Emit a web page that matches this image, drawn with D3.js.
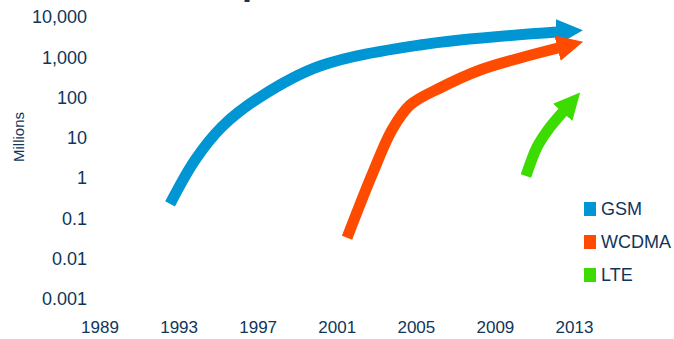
<!DOCTYPE html>
<html>
<head>
<meta charset="utf-8">
<script src="https://cdn.jsdelivr.net/npm/d3@7"></script>
<style>
  html, body { margin: 0; padding: 0; background: #fff; }
  svg { display: block; font-family: "Liberation Sans", Arial, sans-serif; }
</style>
</head>
<body>
<svg id="chart" width="674" height="339"></svg>
<script>
// Subscriptions (millions) per technology, log scale
const years = [1989, 1993, 1997, 2001, 2005, 2009, 2013];
const yTicks = [10000, 1000, 100, 10, 1, 0.1, 0.01, 0.001];
const yTickLabels = ["10,000", "1,000", "100", "10", "1", "0.1", "0.01", "0.001"];

const gsmYears  = [1992.57, 1993.83, 1995.2, 1997.12, 2000.15, 2005.21, 2012.14];
const gsmValues = [0.23, 2.8, 19, 103, 608, 2020, 4250];

const wcdmaYears  = [2001.52, 2002.78, 2003.79, 2004.7, 2006.22, 2008.25, 2010.27, 2012.19];
const wcdmaValues = [0.033, 1.2, 15.7, 65, 173, 484, 962, 1700];

const lteYears  = [2010.57, 2011.13, 2011.68, 2012.44];
const lteValues = [1.13, 5.9, 15.7, 44];

const series = [
  { name: "GSM",   color: "#0095d3", years: gsmYears,   values: gsmValues },
  { name: "WCDMA", color: "#ff4b00", years: wcdmaYears, values: wcdmaValues },
  { name: "LTE",   color: "#3cdc00", years: lteYears,   values: lteValues }
];

const textColor = "#0f3659";
const svg = d3.select("#chart");

const x = d3.scaleLinear().domain([1989, 2013]).range([99.5, 574]);
const y = d3.scaleLog().domain([0.001, 10000]).range([299, 17]);

// Title (runs above the visible area)
const title = svg.append("text")
  .attr("y", -6.5)
  .attr("font-size", 36)
  .attr("font-weight", "bold")
  .attr("fill", textColor)
  .text("Subscriptions");
const pIndex = "Subscriptions".indexOf("p");
const pStart = title.node().getStartPositionOfChar(pIndex).x;
title.attr("x", 242 - pStart);

// Y axis labels
const yAxis = d3.axisLeft(y)
  .tickValues(yTicks)
  .tickSize(0)
  .tickPadding(0)
  .tickFormat((d, i) => yTickLabels[i]);
svg.append("g")
  .attr("transform", "translate(87,0)")
  .call(yAxis)
  .call(g => g.select(".domain").remove())
  .call(g => g.selectAll("text")
    .attr("font-size", 18)
    .attr("font-family", "Liberation Sans, Arial, sans-serif")
    .attr("fill", textColor));

// X axis labels
const xAxis = d3.axisBottom(x)
  .tickValues(years)
  .tickSize(0)
  .tickPadding(0)
  .tickFormat(d3.format("d"));
svg.append("g")
  .attr("transform", "translate(0,321)")
  .call(xAxis)
  .call(g => g.select(".domain").remove())
  .call(g => g.selectAll("text")
    .attr("font-size", 17)
    .attr("font-family", "Liberation Sans, Arial, sans-serif")
    .attr("fill", textColor));

// Axis title
svg.append("text")
  .attr("transform", "translate(23.5,137) rotate(-90)")
  .attr("text-anchor", "middle")
  .attr("font-size", 15)
  .attr("fill", textColor)
  .text("Millions");

// Arrowhead markers
const defs = svg.append("defs");
series.forEach((s, i) => {
  defs.append("marker")
    .attr("id", "head" + i)
    .attr("markerUnits", "userSpaceOnUse")
    .attr("markerWidth", 27)
    .attr("markerHeight", 27)
    .attr("viewBox", "0 -13 26 26")
    .attr("refX", 0.5)
    .attr("refY", 0)
    .attr("orient", "auto")
    .append("path")
    .attr("d", "M0,-12.5L25.5,0L0,12.5Z")
    .attr("fill", s.color);
});

const line = d3.line()
  .x(d => x(d[0]))
  .y(d => y(d[1]))
  .curve(d3.curveCatmullRom.alpha(0.5));

series.forEach((s, i) => {
  const pts = s.years.map((yr, k) => [yr, s.values[k]]);
  svg.append("path")
    .datum(pts)
    .attr("d", line)
    .attr("fill", "none")
    .attr("stroke", s.color)
    .attr("stroke-width", 11)
    .attr("stroke-linecap", "butt")
    .attr("marker-end", "url(#head" + i + ")");
});

// Legend
const legend = svg.append("g").attr("transform", "translate(584,202)");
series.forEach((s, i) => {
  const row = legend.append("g").attr("transform", `translate(0,${i * 33})`);
  row.append("rect")
    .attr("width", 12).attr("height", 14)
    .attr("fill", s.color);
  row.append("text")
    .attr("x", 17).attr("y", 7)
    .attr("dy", "0.35em")
    .attr("font-size", 18)
    .attr("fill", textColor)
    .text(s.name);
});
</script>
</body>
</html>
